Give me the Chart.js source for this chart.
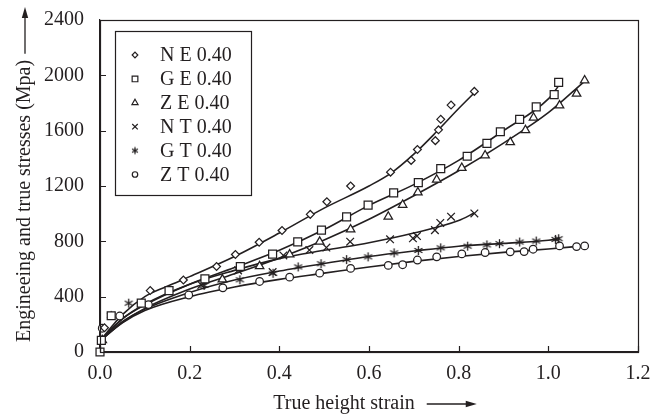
<!DOCTYPE html>
<html><head><meta charset="utf-8">
<script src="https://cdn.jsdelivr.net/npm/chart.js@4.4.1/dist/chart.umd.min.js"></script>
<style>html,body{margin:0;padding:0;background:#fff;}#wrap{width:665px;height:414px;}</style>
</head><body><div id="wrap"><canvas id="c" width="665" height="414"></canvas></div>
<script>
// ---- data ----
const seriesLabels = ['N E 0.40','G E 0.40','Z E 0.40','N T 0.40','G T 0.40','Z T 0.40'];
const xTickValues = [0,0.2,0.4,0.6,0.8,1.0,1.2];
const xTickLabels = ['0.0','0.2','0.4','0.6','0.8','1.0','1.2'];
const yTickValues = [0,400,800,1200,1600,2000,2400];
const yTickLabels = ['0','400','800','1200','1600','2000','2400'];

// measured points [true height strain, stress MPa]
const NE_points = [[0.01,175],[0.112,444],[0.186,520],[0.26,618],[0.302,705],[0.355,793],[0.406,878],[0.469,995],[0.506,1086],[0.559,1200],[0.648,1300],[0.694,1385],[0.708,1464],[0.748,1528],[0.755,1606],[0.76,1682],[0.783,1785],[0.835,1884]];
const GE_points = [[0,0],[0.003,84],[0.025,262],[0.092,353],[0.154,444],[0.234,529],[0.313,618],[0.385,707],[0.441,796],[0.494,881],[0.55,977],[0.598,1062],[0.655,1150],[0.71,1224],[0.76,1325],[0.819,1415],[0.863,1508],[0.893,1592],[0.936,1682],[0.973,1772],[1.013,1860],[1.023,1949]];
const ZE_points = [[0.005,85],[0.273,524],[0.356,620],[0.423,705],[0.49,797],[0.559,886],[0.643,978],[0.675,1064],[0.709,1154],[0.751,1246],[0.807,1331],[0.859,1421],[0.915,1516],[0.949,1604],[0.967,1694],[1.025,1782],[1.063,1867],[1.081,1963]];
const NT_points = [[0.025,262],[0.226,485],[0.308,590],[0.385,578],[0.409,698],[0.467,737],[0.505,755],[0.558,797],[0.647,815],[0.698,822],[0.707,838],[0.747,881],[0.759,933],[0.783,978],[0.835,1002]];
const GT_points = [[0.025,265],[0.064,353],[0.232,481],[0.312,522],[0.386,569],[0.442,615],[0.493,638],[0.55,668],[0.598,688],[0.656,717],[0.71,734],[0.76,753],[0.82,765],[0.863,774],[0.891,783],[0.936,795],[0.973,802],[1.016,814],[1.023,819]];
const ZT_points = [[0.005,172],[0.044,260],[0.108,343],[0.198,412],[0.274,464],[0.356,510],[0.423,541],[0.49,570],[0.559,604],[0.643,626],[0.675,631],[0.708,665],[0.751,688],[0.807,709],[0.859,719],[0.915,724],[0.946,726],[0.966,743],[1.025,767],[1.063,762],[1.081,767]];

// fitted curves
const NE_fit = [[0,80],[0.05,270],[0.1,400],[0.15,475],[0.2,545],[0.3,690],[0.4,860],[0.5,1040],[0.6,1200],[0.65,1295],[0.7,1430],[0.75,1590],[0.8,1760],[0.84,1890]];
const GE_fit = [[0,80],[0.05,240],[0.1,340],[0.2,490],[0.3,610],[0.4,735],[0.5,885],[0.6,1060],[0.7,1210],[0.8,1385],[0.9,1600],[1.0,1830],[1.03,1955]];
const ZE_fit = [[0,80],[0.05,215],[0.1,315],[0.2,455],[0.3,565],[0.4,680],[0.5,810],[0.6,960],[0.7,1130],[0.8,1310],[0.9,1510],[1.0,1730],[1.08,1955]];
const NT_fit = [[0,80],[0.05,240],[0.1,345],[0.2,490],[0.3,590],[0.4,675],[0.5,735],[0.6,790],[0.7,860],[0.8,950],[0.835,1005]];
const GT_fit = [[0,80],[0.05,220],[0.1,310],[0.2,430],[0.3,520],[0.4,585],[0.5,640],[0.6,690],[0.7,730],[0.8,765],[0.9,785],[1.0,808],[1.025,820]];
const ZT_fit = [[0,80],[0.05,210],[0.1,300],[0.2,400],[0.3,470],[0.4,525],[0.5,570],[0.6,615],[0.7,655],[0.8,690],[0.9,720],[1.0,745],[1.08,768]];

// ---- styling ----
const INK = '#231f20';
const FONT = "'Liberation Serif','Times New Roman',serif";

function makeAsterisk(r) {
  const s = Math.ceil(r * 2 + 3);
  const cv = document.createElement('canvas');
  cv.width = s; cv.height = s;
  const c = cv.getContext('2d');
  c.strokeStyle = INK; c.lineWidth = 1.3;
  c.beginPath();
  [90, 30, 150].forEach(deg => {
    const a = deg * Math.PI / 180;
    c.moveTo(s / 2 - Math.cos(a) * r, s / 2 - Math.sin(a) * r);
    c.lineTo(s / 2 + Math.cos(a) * r, s / 2 + Math.sin(a) * r);
  });
  c.stroke();
  return cv;
}
const asteriskBig = makeAsterisk(4.6);
const asteriskSmall = makeAsterisk(3.4);

const markerStyles = ['rectRot','rect','triangle','crossRot',asteriskBig,'circle'];
const legendStyles = ['rectRot','rect','triangle','crossRot',asteriskSmall,'circle'];
const markerRadius = [3.9,5.6,4.9,5.4,4.6,3.8];
const pointSets = [NE_points,GE_points,ZE_points,NT_points,GT_points,ZT_points];
const fitSets = [NE_fit,GE_fit,ZE_fit,NT_fit,GT_fit,ZT_fit];
const toXY = arr => arr.map(p => ({x:p[0], y:p[1]}));

const datasets = [];
pointSets.forEach((pts,i) => {
  datasets.push({
    label: seriesLabels[i], data: toXY(pts), showLine: false,
    pointStyle: markerStyles[i], pointRadius: markerRadius[i], pointHoverRadius: markerRadius[i],
    pointBorderWidth: 1.25, pointBorderColor: INK, pointBackgroundColor: '#fff',
    borderColor: INK, backgroundColor: '#fff', clip: false
  });
});
fitSets.forEach((pts,i) => {
  datasets.push({
    label: seriesLabels[i] + ' fit', data: toXY(pts), showLine: true,
    pointRadius: 0, borderColor: INK, borderWidth: 1.6, cubicInterpolationMode: 'monotone',
    fill: false
  });
});

const xTitleText = 'True height strain';
const xTitlePad = '          ';
const yTitleText = 'Engineeing and true stresses (Mpa)';
const yTitleLead = '  ';

function arrow(ctx, x1, y1, x2, y2) {
  const ang = Math.atan2(y2 - y1, x2 - x1);
  const L = 11, W = 3.2;
  ctx.save();
  ctx.strokeStyle = INK; ctx.fillStyle = INK; ctx.lineWidth = 1.3;
  ctx.beginPath();
  ctx.moveTo(x1, y1);
  ctx.lineTo(x2 - Math.cos(ang) * L * 0.6, y2 - Math.sin(ang) * L * 0.6);
  ctx.stroke();
  ctx.beginPath();
  ctx.moveTo(x2, y2);
  ctx.lineTo(x2 - Math.cos(ang) * L - Math.sin(ang) * W, y2 - Math.sin(ang) * L + Math.cos(ang) * W);
  ctx.lineTo(x2 - Math.cos(ang) * L + Math.sin(ang) * W, y2 - Math.sin(ang) * L - Math.cos(ang) * W);
  ctx.closePath();
  ctx.fill();
  ctx.restore();
}

const decor = {
  id: 'decor',
  afterDraw(chart) {
    const ctx = chart.ctx, a = chart.chartArea;
    const xs = chart.scales.x, ys = chart.scales.y;
    ctx.save();
    // frame
    ctx.strokeStyle = INK; ctx.lineWidth = 1.2;
    ctx.strokeRect(Math.round(a.left) + 0.5, Math.round(a.top) + 0.5, Math.round(a.right - a.left), Math.round(a.bottom - a.top));
    // inward ticks
    ctx.beginPath();
    yTickValues.forEach(v => { const py = Math.round(ys.getPixelForValue(v)) + 0.5; ctx.moveTo(a.left, py); ctx.lineTo(a.left + 6, py); });
    xTickValues.forEach(v => { const px = Math.round(xs.getPixelForValue(v)) + 0.5; ctx.moveTo(px, a.bottom); ctx.lineTo(px, a.bottom - 6); });
    ctx.stroke();

    // legend
    const lx = 115.5, ly = 31.5, lw = 136, lh = 164;
    ctx.fillStyle = '#fff';
    ctx.fillRect(lx, ly, lw, lh);
    ctx.strokeStyle = INK; ctx.lineWidth = 1.2;
    ctx.strokeRect(lx, ly, lw, lh);
    ctx.font = '20px ' + FONT;
    ctx.textBaseline = 'middle'; ctx.textAlign = 'left';
    seriesLabels.forEach((lab, i) => {
      const cy = 55 + i * 23.9;
      ctx.fillStyle = '#fff'; ctx.strokeStyle = INK; ctx.lineWidth = 1.2;
      if (Chart.helpers && Chart.helpers.drawPoint) {
        Chart.helpers.drawPoint(ctx, {pointStyle: legendStyles[i], radius: markerRadius[i] * 0.72, rotation: 0, borderWidth: 1.2}, 135, cy);
      }
      ctx.fillStyle = INK;
      ctx.fillText(lab, 160, cy + 1);
    });

    // axis-title arrows
    ctx.font = '20px ' + FONT;
    const wx = ctx.measureText(xTitleText).width;
    const wxt = ctx.measureText(xTitleText + xTitlePad).width;
    const cx = (xs.left + xs.right) / 2;
    const xEnd = cx - wxt / 2 + wx;
    arrow(ctx, xEnd + 12, 404, xEnd + 62, 404);
    const wy = ctx.measureText(yTitleLead + yTitleText).width;
    const yEnd = ys.bottom - wy;
    arrow(ctx, 25, yEnd - 6, 25, Math.max(yEnd - 56, 7));
    ctx.restore();
  }
};

new Chart(document.getElementById('c'), {
  type: 'scatter',
  data: { datasets },
  options: {
    responsive: false, animation: false, devicePixelRatio: 1,
    layout: { padding: { left: 0, top: 16, right: 27, bottom: 0 } },
    plugins: { legend: { display: false }, tooltip: { enabled: false } },
    scales: {
      x: {
        type: 'linear', min: 0, max: 1.2,
        afterFit(s) { s.height = 62; },
        afterBuildTicks(s) { s.ticks = xTickValues.map(v => ({value: v})); },
        grid: { display: false },
        border: { display: true, color: INK, width: 1.2 },
        ticks: { color: INK, font: { family: FONT, size: 20 }, padding: 2, maxRotation: 0, autoSkip: false,
          callback: (v, i) => xTickLabels[i] },
        title: { display: true, text: xTitleText + xTitlePad, color: INK,
          font: { family: FONT, size: 20, lineHeight: 1 }, padding: { top: 0, bottom: 0 } }
      },
      y: {
        type: 'linear', min: 0, max: 2400,
        afterFit(s) { s.width = 100; },
        afterBuildTicks(s) { s.ticks = yTickValues.map(v => ({value: v})); },
        grid: { display: false },
        border: { display: true, color: INK, width: 1.2 },
        ticks: { color: INK, font: { family: FONT, size: 20 }, padding: 8, autoSkip: false,
          callback: (v, i) => yTickLabels[i] },
        title: { display: true, text: yTitleLead + yTitleText, align: 'start', color: INK,
          font: { family: FONT, size: 20, lineHeight: 1 }, padding: { top: 15, bottom: 0 } }
      }
    }
  },
  plugins: [decor]
});
</script></body></html>
